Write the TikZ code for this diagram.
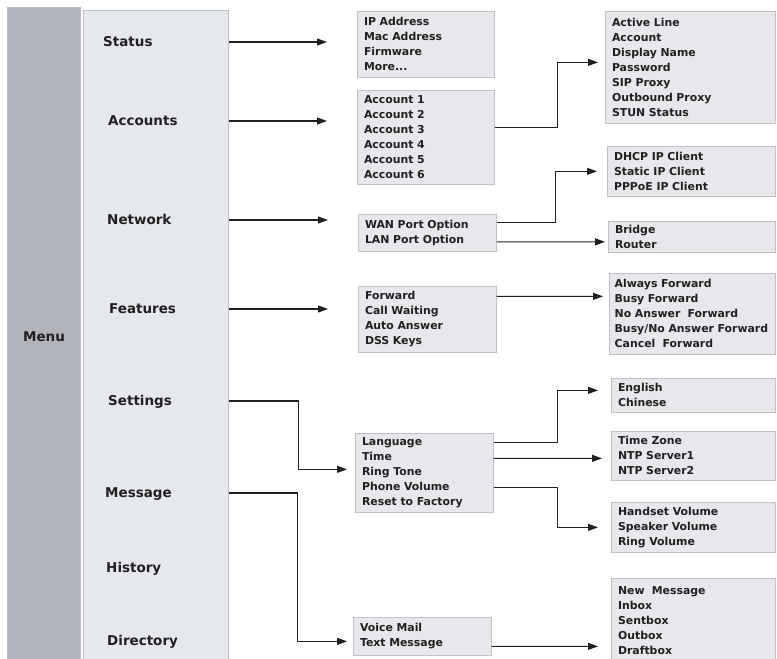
\documentclass[tikz,border=0pt]{standalone}
\usepackage{fontspec}
\setmainfont{DejaVu Sans}
\usetikzlibrary{arrows.meta,calc,positioning}
\definecolor{stripgray}{RGB}{178,180,187}
\definecolor{panelgray}{RGB}{229,232,236}
\definecolor{boxgray}{RGB}{230,232,235}
\definecolor{edgegray}{RGB}{192,194,198}
\definecolor{inkblack}{RGB}{35,31,32}

\begin{document}
\begin{tikzpicture}[x=0.03cm,y=-0.03cm,>={Triangle[length=3mm,width=2.1mm]},
  menuitem/.style={anchor=west,inner sep=0pt,text height=8.4pt,text depth=0pt,
    text=inkblack,font=\bfseries\fontsize{11.5}{13}\selectfont},
  subbox/.style={draw=edgegray,fill=boxgray,line width=0.6pt,anchor=north west,
    inner xsep=2mm,inner ysep=0pt,align=left,text width=#1,text=inkblack,
    font=\bfseries\fontsize{9.3}{12.8}\selectfont},
  conn/.style={->,line width=0.9pt,draw=inkblack}]
  \useasboundingbox (0,0) rectangle (777,658);
  % menu column
  \node[fill=stripgray,draw=stripgray!85!white,inner sep=0pt,anchor=north west,
    minimum width=2.19cm,minimum height=19.7cm] (strip) at (7,7) {};
  \node[fill=panelgray,draw=edgegray,line width=0.6pt,inner sep=0pt,anchor=north west,
    minimum width=4.35cm,minimum height=19.6cm] (panel) at (83,10) {};
  \node[menuitem,anchor=center] (menu) at (44,337) {Menu};
  \foreach \nm/\txt/\x/\y in {status/Status/103/42,accounts/Accounts/108/121,
      network/Network/107/220,features/Features/109/309,settings/Settings/108/401,
      message/Message/105/493,history/History/106/568,directory/Directory/107/641}
    \node[menuitem] (\nm) at (\x,\y) {\txt};
  % second level
  \node[subbox=3.71cm,minimum height=1.98cm] (stbox) at (357,11)
    {IP Address\\Mac Address\\Firmware\\More...};
  \node[subbox=3.71cm,minimum height=2.82cm] (acbox) at (357,90)
    {Account 1\\Account 2\\Account 3\\Account 4\\Account 5\\Account 6};
  \node[subbox=3.74cm,minimum height=1.11cm] (nwbox) at (358,214)
    {WAN Port Option\\LAN Port Option};
  \node[subbox=3.74cm,minimum height=1.98cm] (ftbox) at (358,286)
    {Forward\\Call Waiting\\Auto Answer\\DSS Keys};
  \node[subbox=3.74cm,minimum height=2.37cm] (stgbox) at (355,433)
    {Language\\Time\\Ring Tone\\Phone Volume\\Reset to Factory};
  \node[subbox=3.74cm,minimum height=1.14cm] (msbox) at (353,617)
    {Voice Mail\\Text Message};
  % third level
  \node[subbox=4.7cm,minimum height=3.36cm] (acdbox) at (605,11)
    {Active Line\\Account\\Display Name\\Password\\SIP Proxy\\Outbound Proxy\\STUN Status};
  \node[subbox=4.64cm,minimum height=1.5cm] (dhcpbox) at (607,146)
    {DHCP IP Client\\Static IP Client\\PPPoE IP Client};
  \node[subbox=4.61cm,minimum height=0.93cm] (brbox) at (608,221)
    {Bridge\\Router};
  \node[subbox=4.66cm,minimum height=2.43cm,inner xsep=1.6mm] (fwdbox) at (609,273)
    {Always Forward\\Busy Forward\\No Answer~ Forward\\\mbox{Busy/No Answer Forward}\\Cancel~ Forward};
  \node[subbox=4.52cm,minimum height=1.02cm] (langbox) at (611,378)
    {English\\Chinese};
  \node[subbox=4.52cm,minimum height=1.47cm] (tzbox) at (611,431)
    {Time Zone\\NTP Server1\\NTP Server2};
  \node[subbox=4.52cm,minimum height=1.5cm] (volbox) at (611,502)
    {Handset Volume\\Speaker Volume\\Ring Volume};
  \node[subbox=4.52cm,minimum height=2.52cm] (msgdbox) at (611,578)
    {New~ Message\\Inbox\\Sentbox\\Outbox\\Draftbox};
  % menu to second level
  \foreach \src/\dst in {status/stbox,accounts/acbox,network/nwbox,features/ftbox}
    \draw[conn,shorten >=9mm] (\src -| panel.east) -- (\src -| \dst.west);
  \draw[conn,shorten >=2.4mm] (settings -| panel.east) -- ++(70,0)
    |- ($(stgbox.west)+(0,-3.5)$);
  \draw[conn,shorten >=1.8mm] (message -| panel.east) -- ++(69,0)
    |- ($(msbox.west)+(0,5)$);
  % second to third level
  \draw[conn,shorten >=2.1mm] ($(acbox.east)+(0,-10)$) -- ++(63,0)
    |- ($(acdbox.west)+(0,-5)$);
  \draw[conn,shorten >=3mm] ($(nwbox.east)+(0,-10.5)$) -- ++(59,0) |- (dhcpbox.west);
  \draw[conn,shorten >=0.9mm] ($(nwbox.east)+(0,9)$) -- ($(brbox.west)+(0,5)$);
  \draw[conn,shorten >=1.8mm] ($(ftbox.east)+(0,-23)$) -- ($(fwdbox.west)+(0,-17.5)$);
  \draw[conn,shorten >=3.9mm] ($(stgbox.east)+(0,-30.5)$) -- ++(64,0)
    |- ($(langbox.west)+(0,-5)$);
  \draw[conn,shorten >=2.7mm] ($(stgbox.east)+(0,-14.5)$) -- ($(tzbox.west)+(0,2.5)$);
  \draw[conn,shorten >=3.9mm] ($(stgbox.east)+(0,14.5)$) -- ++(64,0) |- (volbox.west);
  \draw[conn,shorten >=3.9mm] ($(msbox.east)+(0,10)$) -- ($(msgdbox.west)+(0,26)$);
\end{tikzpicture}
\end{document}
